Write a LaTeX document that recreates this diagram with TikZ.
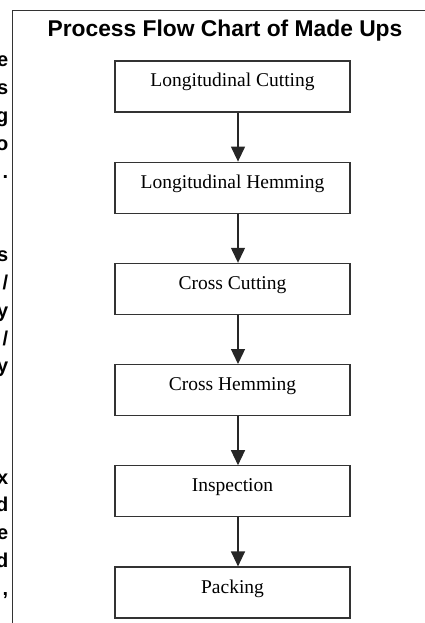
\documentclass[tikz,border=0pt]{standalone}
\usepackage{fontspec}
\setmainfont{Liberation Serif}
\newfontfamily\hsans{Liberation Sans}
\usetikzlibrary{arrows.meta}
\begin{document}
\begin{tikzpicture}[x=1pt,y=-1pt,
  stepbox/.style={draw=black!80, line width=1.2pt, minimum width=235pt, minimum height=51pt,
    inner sep=0pt, text height=13pt, text depth=12pt, font=\fontsize{19.5}{22}\selectfont},
  flow/.style={line width=1.3pt, draw=black!85, -{Triangle[length=15pt,width=14pt]}},
  frameline/.style={line width=1.6pt, draw=black!80},
  frag/.style={anchor=base east, inner sep=0pt, font=\hsans\bfseries\fontsize{20}{24}\selectfont},
  ttl/.style={anchor=base, inner sep=0pt, font=\hsans\bfseries\fontsize{22.8}{26}\selectfont}]
\useasboundingbox (0,0) rectangle (425,623);
% frame
\coordinate (fbl) at (12.5,623);
\coordinate (fc) at (12.5,10.5);
\coordinate (ftr) at (425,10.5);
\draw[frameline] (fbl) -- (fc) -- (ftr);
% fragments of neighbouring column
\foreach \k/\c [count=\i] in {0/e,1/s,2/g,3/o,4/.,7/s,8/{/},9/y,10/{/},11/y,15/x,16/d,17/e,18/d,19/{,}}
  \node[frag] (f\i) at (8.5,67+27.8*\k) {\c};
% title
\node[ttl] (title) at (225,37) {Process Flow Chart of Made Ups};
% boxes
\node[stepbox] (b1) at (232.5,86.5) {Longitudinal Cutting};
\node[stepbox] (b2) at (232.5,187.7) {Longitudinal Hemming};
\node[stepbox] (b3) at (232.5,288.9) {Cross Cutting};
\node[stepbox] (b4) at (232.5,390.1) {Cross Hemming};
\node[stepbox] (b5) at (232.5,491.3) {Inspection};
\node[stepbox] (b6) at (232.5,592.5) {Packing};
% arrows
\foreach \a/\b in {b1/b2,b2/b3,b3/b4,b4/b5,b5/b6}
  \draw[flow] ([xshift=5.5pt]\a.south) -- ([xshift=5.5pt]\b.north);
\end{tikzpicture}
\end{document}
